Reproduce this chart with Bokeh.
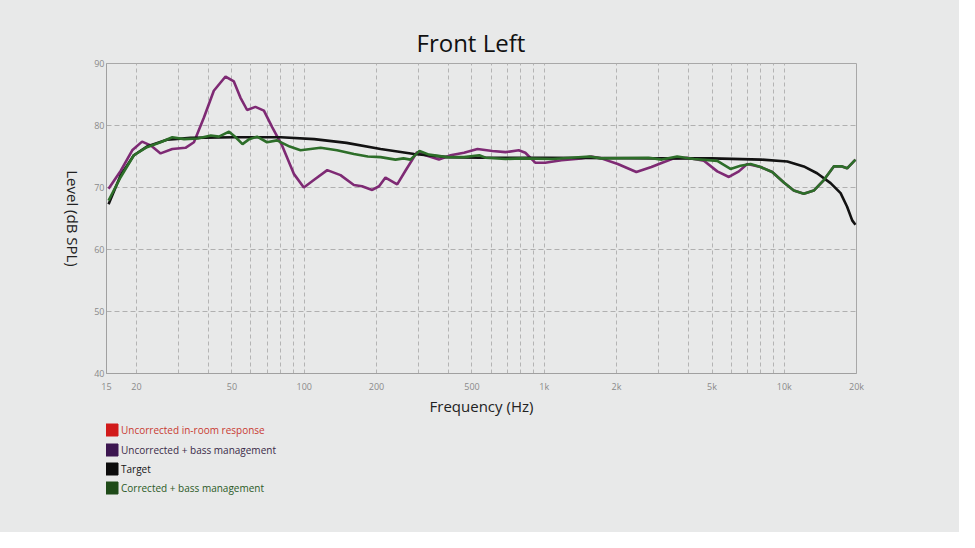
import math
from bokeh.plotting import figure
from bokeh.layouts import column, row
from bokeh.models import FixedTicker, Legend, LegendItem, Label, Spacer
from bokeh.embed import file_html
from bokeh.resources import INLINE

# ---------------- data ----------------
uncorr_bm_freq = [15.3, 17.2, 19.2, 21.1, 22.9, 25.2, 28.2, 32, 34.7, 38.2, 42, 47, 50.9, 54.2,
                  57.8, 62.6, 67.9, 73.6, 81, 90.5, 99.6, 109.6, 124.7, 141.6, 161, 174, 192, 205,
                  218, 232, 244, 264, 295, 325, 364, 407, 463, 527, 608, 690, 783, 834, 917, 1009,
                  1181, 1430, 1570, 1726, 2025, 2420, 2795, 3100, 3467, 3936, 4627, 5260, 5880,
                  6470, 7010, 7970, 8910, 9960, 10960, 12060, 13280, 14620, 16080, 17420, 18280, 19800]
uncorr_bm_db = [69.8, 72.7, 76.0, 77.4, 76.8, 75.5, 76.2, 76.4, 77.3, 81.3, 85.6, 87.9, 87.1, 84.5,
                82.5, 83.0, 82.4, 79.7, 76.7, 72.2, 70.0, 71.2, 72.8, 72.0, 70.4, 70.2, 69.6, 70.2,
                71.6, 71.0, 70.5, 72.7, 75.7, 75.1, 74.5, 75.2, 75.6, 76.2, 75.9, 75.7, 76.0, 75.6, 74.0, 74.0,
                74.4, 74.7, 75.0, 74.7, 73.8, 72.5, 73.3, 74.0, 74.7, 74.8, 74.3, 72.6, 71.7,
                72.6, 73.8, 73.3, 72.5, 70.8, 69.5, 69.0, 69.5, 71.2, 73.4, 73.4, 73.1, 74.5]

target_freq = [15.3, 17.2, 19.5, 22.1, 26.8, 33.6, 50.9, 80, 110, 150, 208, 287, 394, 536, 1000,
               3000, 5000, 8000, 10300, 12060, 13700, 15600, 17170, 18280, 19190, 19800]
target_db = [67.3, 72.0, 75.2, 76.6, 77.7, 78.0, 78.1, 78.1, 77.8, 77.2, 76.2, 75.4, 74.9, 74.8, 74.8,
             74.7, 74.7, 74.5, 74.2, 73.4, 72.3, 70.7, 69.1, 66.9, 64.7, 64.0]

corr_bm_freq = [15.3, 17.2, 19.5, 22.1, 25.2, 28.2, 31.6, 36, 40.8, 44.1, 48.6, 51.8, 55.3, 59, 63.6,
                70, 77, 87, 96.5, 117, 137, 161, 184, 208, 240, 259, 277, 302, 331, 394, 463, 536,
                570, 690, 808, 1080, 1545, 1726, 2720, 3090, 3580, 4200, 5260, 5970, 6570, 7240,
                7970, 8910, 9960, 10960, 12060, 13280, 14620, 16080, 17420, 18280, 19800]
corr_bm_db = [67.9, 71.7, 75.2, 76.5, 77.3, 78.1, 77.8, 77.9, 78.4, 78.2, 79.0, 78.1, 77.0, 77.8, 78.2,
              77.3, 77.6, 76.6, 76.0, 76.4, 76.0, 75.4, 75.0, 74.9, 74.5, 74.7, 74.5, 75.9, 75.3, 74.9, 74.9, 75.2,
              74.8, 74.6, 74.7, 74.6, 75.0, 74.7, 74.8, 74.5, 75.0, 74.6, 74.3, 73.0, 73.5, 73.8,
              73.3, 72.5, 70.8, 69.5, 69.0, 69.5, 71.2, 73.4, 73.4, 73.1, 74.5]

x_ticks = [15, 20, 50, 100, 200, 500, 1000, 2000, 5000, 10000, 20000]
x_tick_labels = ["15", "20", "50", "100", "200", "500", "1k", "2k", "5k", "10k", "20k"]
x_minor = [30, 40, 60, 70, 80, 90, 300, 400, 600, 700, 800, 900,
           3000, 4000, 6000, 7000, 8000, 9000]
y_ticks = [40, 50, 60, 70, 80, 90]
y_title = "Level (dB SPL)"

legend_labels = ["Uncorrected in-room response", "Uncorrected + bass management",
                 "Target", "Corrected + bass management"]
legend_swatch = ["#d11a1a", "#3c1650", "#0c0c0c", "#1e4a18"]
legend_text = ["#c83a32", "#3a2a48", "#151515", "#2b5a26"]

BG = "#e8e9e9"
FONT = "Open Sans"
STRIP = 90          # width of the strip holding the rotated y title

# ---------------- main figure ----------------
p = figure(width=959 - STRIP, height=421, frame_width=750, frame_height=310,
           x_axis_type="log", x_range=(15, 20000), y_range=(40, 90),
           output_backend="svg", toolbar_location=None, title="Front Left",
           min_border_left=106 - STRIP, min_border_right=103, min_border_top=63,
           min_border_bottom=48)
p.background_fill_color = BG
p.border_fill_color = BG
p.outline_line_color = "#a8a8a8"

p.title.align = "left"
p.title.offset = 310
p.title.text_font = FONT
p.title.text_font_style = "normal"
p.title.text_font_size = "24px"
p.title.text_color = "#111111"

xa = p.xaxis[0]
xa.ticker = FixedTicker(ticks=x_ticks, minor_ticks=x_minor)
xa.major_label_overrides = {t: l for t, l in zip(x_ticks, x_tick_labels)}
xa.major_label_standoff = 6
xa.axis_label = "Frequency (Hz)"
xa.axis_label_standoff = 0
xa.axis_label_text_font = FONT
xa.axis_label_text_font_style = "normal"
xa.axis_label_text_font_size = "15px"
xa.axis_label_text_color = "#222222"

ya = p.yaxis[0]
ya.ticker = FixedTicker(ticks=y_ticks)
ya.major_label_standoff = 2

for ax in (xa, ya):
    ax.axis_line_color = "#a0a0a0"
    ax.major_tick_line_color = None
    ax.minor_tick_line_color = None
    ax.major_tick_out = 0
    ax.minor_tick_out = 0
    ax.major_label_text_font = FONT
    ax.major_label_text_font_size = "9px"
    ax.major_label_text_color = "#8a8a8a"

p.xgrid.grid_line_color = "#b4b4b4"
p.xgrid.grid_line_dash = "4 3"
p.xgrid.minor_grid_line_color = "#b4b4b4"
p.xgrid.minor_grid_line_dash = "4 3"
p.ygrid.grid_line_color = "#b0b0b0"
p.ygrid.grid_line_dash = "5 3"

p.line(uncorr_bm_freq, uncorr_bm_db, line_color="#7e2a74", line_width=2.6)
p.line(target_freq, target_db, line_color="#121212", line_width=2.6)
p.line(corr_bm_freq, corr_bm_db, line_color="#2d6e29", line_width=2.6)

# ---------------- strip with the y title (reads top to bottom) ----------------
yl = figure(width=STRIP, height=421, frame_width=STRIP, frame_height=310,
            x_range=(0, STRIP), y_range=(40, 90), output_backend="svg",
            toolbar_location=None, x_axis_location=None, y_axis_location=None,
            min_border_left=0, min_border_right=0, min_border_top=63, min_border_bottom=48)
yl.grid.visible = False
yl.outline_line_color = None
yl.background_fill_color = BG
yl.border_fill_color = BG
yl.add_layout(Label(x=72, y=65, text=y_title, angle=-math.pi / 2, text_align="center",
                    text_baseline="middle", text_font=FONT, text_font_size="15px",
                    text_color="#222222"))

# ---------------- legend strip below ----------------
lf = figure(width=959 - STRIP, height=111, x_range=(0, 1), y_range=(0, 1), output_backend="svg",
            toolbar_location=None, x_axis_location=None, y_axis_location=None,
            min_border_left=106 - STRIP, min_border_right=103, min_border_top=0,
            min_border_bottom=0)
lf.grid.visible = False
lf.outline_line_color = None
lf.background_fill_color = BG
lf.border_fill_color = BG

row_positions = [95, 75, 56, 37]
for lab, sw, tc, ypos in zip(legend_labels, legend_swatch, legend_text, row_positions):
    # placeholder swatch renderer, outside the visible range (only used for the legend key)
    r = lf.quad(left=[2], right=[3], top=[3], bottom=[2], fill_color=sw, line_color=sw)
    leg = Legend(items=[LegendItem(label=lab, renderers=[r])], location=(-2, ypos),
                 orientation="vertical", label_text_color=tc, label_text_font=FONT,
                 label_text_font_size="10px", glyph_width=15, glyph_height=15,
                 label_height=15, label_standoff=2, padding=0, margin=0, spacing=0,
                 border_line_color=None, background_fill_alpha=0)
    lf.add_layout(leg)

sp = Spacer(width=STRIP, height=111, styles={"background-color": BG})
layout = column(row(yl, p, spacing=0), row(sp, lf, spacing=0), spacing=0)
layout.styles = {"background-color": BG}
open("out.html", "w").write(file_html(layout, INLINE))
